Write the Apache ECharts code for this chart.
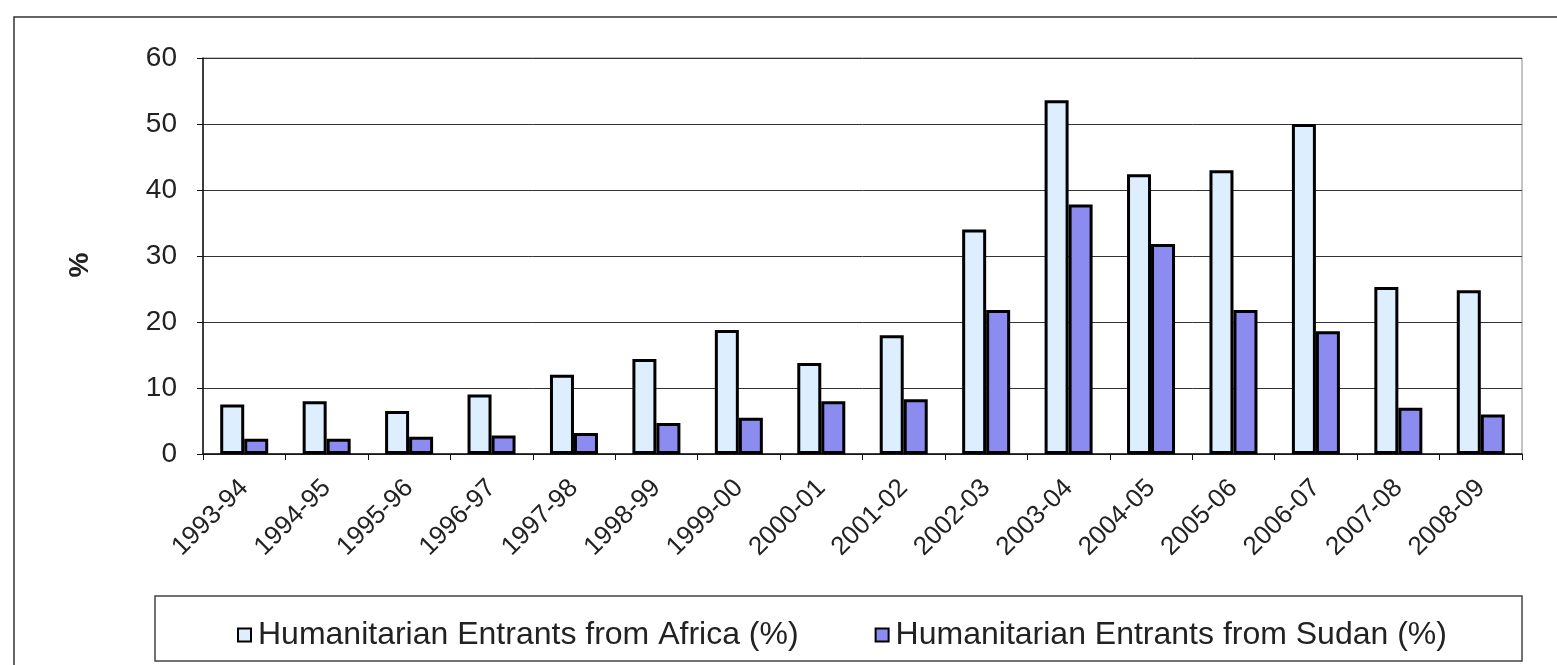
<!DOCTYPE html>
<html>
<head>
<meta charset="utf-8">
<script src="https://cdn.jsdelivr.net/npm/echarts@6/dist/echarts.min.js"></script>
<style>
  html, body { margin: 0; padding: 0; background: #fff; }
  #chart { width: 1557px; height: 665px; }
</style>
</head>
<body>
<div id="chart"></div>
<script>
// Financial years on the category axis
const years = ['1993-94', '1994-95', '1995-96', '1996-97', '1997-98', '1998-99', '1999-00', '2000-01',
  '2001-02', '2002-03', '2003-04', '2004-05', '2005-06', '2006-07', '2007-08', '2008-09'];

// Share of humanitarian entrants (%)
const africa = [7.5, 8.0, 6.5, 9.0, 12.0, 14.4, 18.8, 13.8, 18.0, 34.0, 53.6, 42.4, 43.0, 50.0, 25.3, 24.8];
const sudan = [2.3, 2.3, 2.6, 2.8, 3.2, 4.7, 5.5, 8.0, 8.3, 21.8, 37.8, 31.8, 21.8, 18.6, 7.0, 6.0];

const seriesNames = ['Humanitarian Entrants from Africa (%)', 'Humanitarian Entrants from Sudan (%)'];
const yTicks = [0, 10, 20, 30, 40, 50, 60];

const font = '"Liberation Sans", Arial, sans-serif';
const chart = echarts.init(document.getElementById('chart'), null, { renderer: 'canvas' });

chart.setOption({
  backgroundColor: '#fff',
  animation: false,
  textStyle: { fontFamily: font },
  graphic: [
    // outer chart frame
    { type: 'rect', shape: { x: 14, y: 17, width: 1600, height: 700 },
      style: { fill: 'none', stroke: '#333', lineWidth: 1.5 }, z: 0 },
    // legend frame
    { type: 'rect', shape: { x: 155, y: 596, width: 1367, height: 65 },
      style: { fill: 'none', stroke: '#444', lineWidth: 1.5 }, z: 0 },
    // value axis title
    { type: 'text', x: 80, y: 265, rotation: Math.PI / 2,
      style: { text: '%', fontSize: 28, fontWeight: 'bold', fill: '#222', fontFamily: font,
        align: 'center', verticalAlign: 'middle' } }
  ],
  grid: {
    left: 203, right: 35, top: 58, bottom: 211,
    show: true, borderColor: '#888', borderWidth: 1, backgroundColor: 'transparent'
  },
  legend: {
    data: seriesNames,
    left: 232, top: 614,
    itemWidth: 13, itemHeight: 13, itemGap: 76,
    icon: 'rect',
    textStyle: { fontSize: 32, color: '#222', fontFamily: font, padding: [0, 0, 0, 2] }
  },
  xAxis: {
    type: 'category',
    data: years,
    axisLine: { lineStyle: { color: '#111', width: 1.5 } },
    axisTick: { show: true, length: 6, lineStyle: { color: '#111' } },
    axisLabel: { rotate: 45, fontSize: 26, color: '#222', margin: 30, interval: 0, fontFamily: font },
    splitLine: { show: false }
  },
  yAxis: {
    type: 'value',
    min: yTicks[0], max: yTicks[yTicks.length - 1], interval: 10,
    axisLine: { show: true, lineStyle: { color: '#111', width: 1.5 } },
    axisTick: { show: true, length: 6, lineStyle: { color: '#111' } },
    axisLabel: { fontSize: 28, color: '#222', margin: 26, fontFamily: font },
    splitLine: { show: true, lineStyle: { color: '#333', width: 1 } }
  },
  series: [
    {
      name: seriesNames[0], type: 'bar', data: africa,
      barWidth: 24, barGap: '0%',
      itemStyle: { color: '#ddeeff', borderColor: '#000', borderWidth: 3 }
    },
    {
      name: seriesNames[1], type: 'bar', data: sudan,
      barWidth: 24,
      itemStyle: { color: '#8c8cf0', borderColor: '#000', borderWidth: 3 }
    }
  ]
});
</script>
</body>
</html>
